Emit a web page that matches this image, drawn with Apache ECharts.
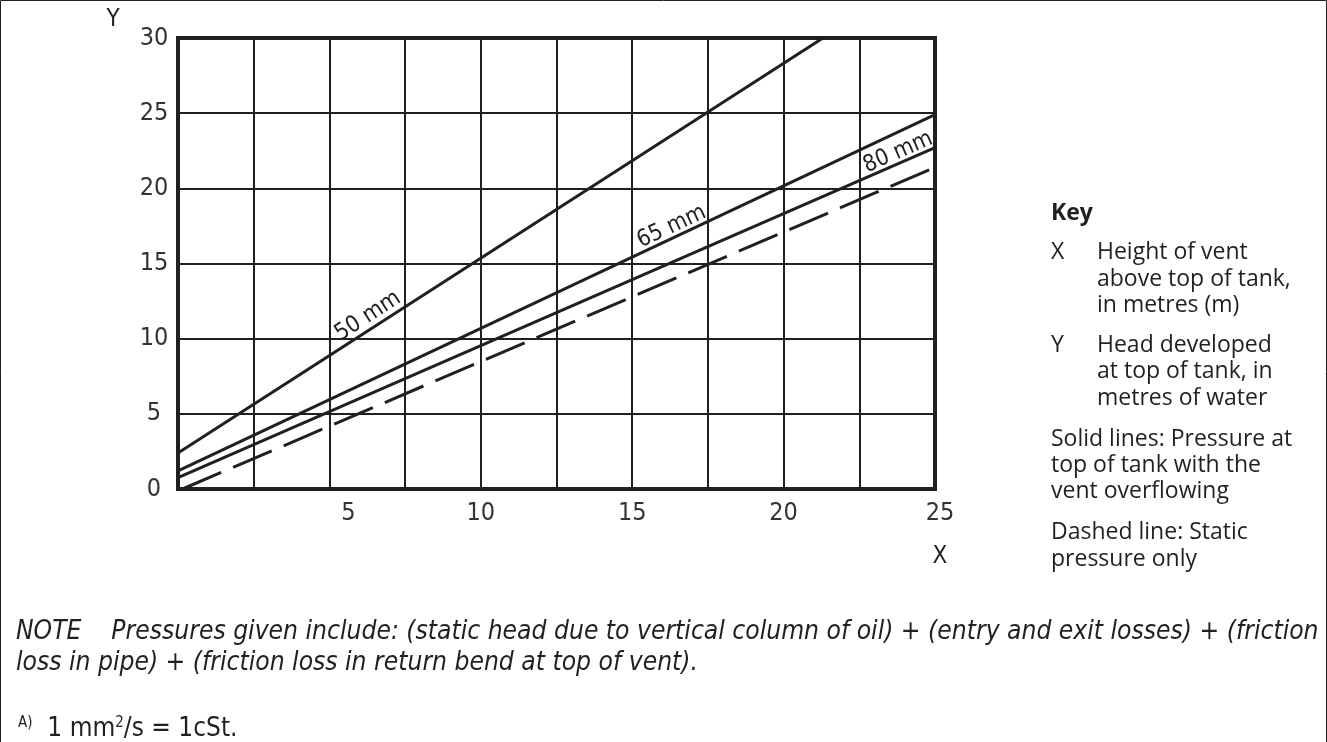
<!DOCTYPE html>
<html>
<head>
<meta charset="utf-8">
<script src="https://cdn.jsdelivr.net/npm/echarts/dist/echarts.min.js"></script>
<style>
  html, body { margin: 0; padding: 0; background: #fff; }
  #chart { width: 1327px; height: 742px; }
</style>
</head>
<body>
<div id="chart"></div>
<script>
// values: X = height of vent (m), Y = head (m of water)
var xLabels = [5, 10, 15, 20, 25];
var yLabels = [0, 5, 10, 15, 20, 25, 30];
var pipe50 = [[0, 2.4], [21.3, 30]];
var pipe65 = [[0, 1.2], [25, 24.9]];
var pipe80 = [[0, 0.75], [25, 22.7]];
var staticOnly = [[0.15, 0], [25, 21.4]];

var ink = '#231f20';
var tickFont = '"Liberation Sans Narrow", "DejaVu Sans Condensed", sans-serif';
var bodyFont = '"Open Sans", "Noto Sans", sans-serif';

var keyLines = [
    ['Key', null, true],
    ['X', 'Height of vent'],
    [null, 'above top of tank,'],
    [null, 'in metres (m)'],
    ['Y', 'Head developed'],
    [null, 'at top of tank, in'],
    [null, 'metres of water'],
    ['Solid lines: Pressure at'],
    ['top of tank with the'],
    ['vent overflowing'],
    ['Dashed line: Static'],
    ['pressure only']
];
var keyY = [213, 252, 279, 305, 345, 371, 398, 439, 465, 491, 532, 559];

var chart = echarts.init(document.getElementById('chart'));

function lineSeries(data, dashed, label) {
    var s = {
        type: 'line',
        data: data,
        showSymbol: false,
        silent: true,
        lineStyle: { color: ink, width: 3, type: dashed ? [42, 13] : 'solid', cap: 'butt' }
    };
    if (label) {
        s.markPoint = {
            symbol: 'circle',
            symbolSize: 0,
            silent: true,
            data: [{ coord: label.at }],
            label: {
                show: true,
                position: 'inside',
                formatter: label.text,
                rotate: label.rotate,
                color: ink,
                fontFamily: tickFont,
                fontSize: 23
            }
        };
    }
    return s;
}

var graphics = [
    { type: 'rect', shape: { x: 0.5, y: 0.5, width: 1326, height: 800 }, style: { fill: null, stroke: ink, lineWidth: 1 } },
    { type: 'text', x: 113, y: 20, style: { text: 'Y', font: '24px ' + tickFont, fill: ink, align: 'center', verticalAlign: 'middle' } },
    { type: 'text', x: 940, y: 557, style: { text: 'X', font: '24px ' + tickFont, fill: ink, align: 'center', verticalAlign: 'middle' } },
    { type: 'text', x: 16, y: 632, style: { text: 'NOTE    Pressures given include: (static head due to vertical column of oil) + (entry and exit losses) + (friction', font: 'italic 26.2px ' + tickFont, fill: ink, verticalAlign: 'middle' } },
    { type: 'text', x: 16, y: 663, style: { text: 'loss in pipe) + (friction loss in return bend at top of vent).', font: 'italic 26.2px ' + tickFont, fill: ink, verticalAlign: 'middle' } },
    { type: 'text', x: 18, y: 729, style: {
        text: '{s|A)}  1 mm{s|2}/s = 1cSt.',
        fill: ink, verticalAlign: 'middle',
        font: '26px ' + tickFont,
        rich: { s: { fontSize: 15, fontFamily: tickFont, verticalAlign: 'top', padding: [0, 0, 10, 0] } }
    } }
];

keyLines.forEach(function (row, i) {
    var bold = row[2] === true;
    if (row[0]) {
        graphics.push({ type: 'text', x: 1051, y: keyY[i], style: {
            text: row[0], font: (bold ? 'bold ' : '') + '23px ' + bodyFont, fill: ink, verticalAlign: 'middle' } });
    }
    if (row[1]) {
        graphics.push({ type: 'text', x: 1097, y: keyY[i], style: {
            text: row[1], font: '23px ' + bodyFont, fill: ink, verticalAlign: 'middle' } });
    }
});

var option = {
    animation: false,
    grid: {
        left: 178, top: 38, right: 392, bottom: 253,
        show: true, borderColor: ink, borderWidth: 4, backgroundColor: 'transparent'
    },
    xAxis: {
        type: 'value', min: 0, max: 25, interval: 2.5,
        axisLine: { show: false }, axisTick: { show: false },
        splitLine: { show: true, lineStyle: { color: ink, width: 2 } },
        axisLabel: {
            margin: 12, color: '#333', fontFamily: tickFont, fontSize: 25,
            formatter: function (v) {
                if (xLabels.indexOf(v) < 0) return '';
                // the drawing sets the first and last labels a little right of their lines
                if (v === 5) return '{far|' + v + '}';
                if (v === 25) return '{near|' + v + '}';
                return String(v);
            },
            rich: {
                far: { fontFamily: tickFont, fontSize: 25, color: '#333', padding: [0, 0, 0, 38] },
                near: { fontFamily: tickFont, fontSize: 25, color: '#333', padding: [0, 0, 0, 10] }
            }
        }
    },
    yAxis: {
        type: 'value', min: 0, max: 30, interval: 5,
        axisLine: { show: false }, axisTick: { show: false },
        splitLine: { show: true, lineStyle: { color: ink, width: 2 } },
        axisLabel: {
            margin: 24, align: 'center', color: '#333', fontFamily: tickFont, fontSize: 25,
            formatter: function (v) { return yLabels.indexOf(v) >= 0 ? String(v) : ''; }
        }
    },
    series: [
        lineSeries(pipe50, false, { text: '50 mm', at: [6.27, 11.5], rotate: 33 }),
        lineSeries(pipe65, false, { text: '65 mm', at: [16.3, 17.45], rotate: 25 }),
        lineSeries(pipe80, false, { text: '80 mm', at: [23.78, 22.4], rotate: 23.6 }),
        lineSeries(staticOnly, true, null)
    ],
    graphic: graphics
};

chart.setOption(option);
</script>
</body>
</html>
